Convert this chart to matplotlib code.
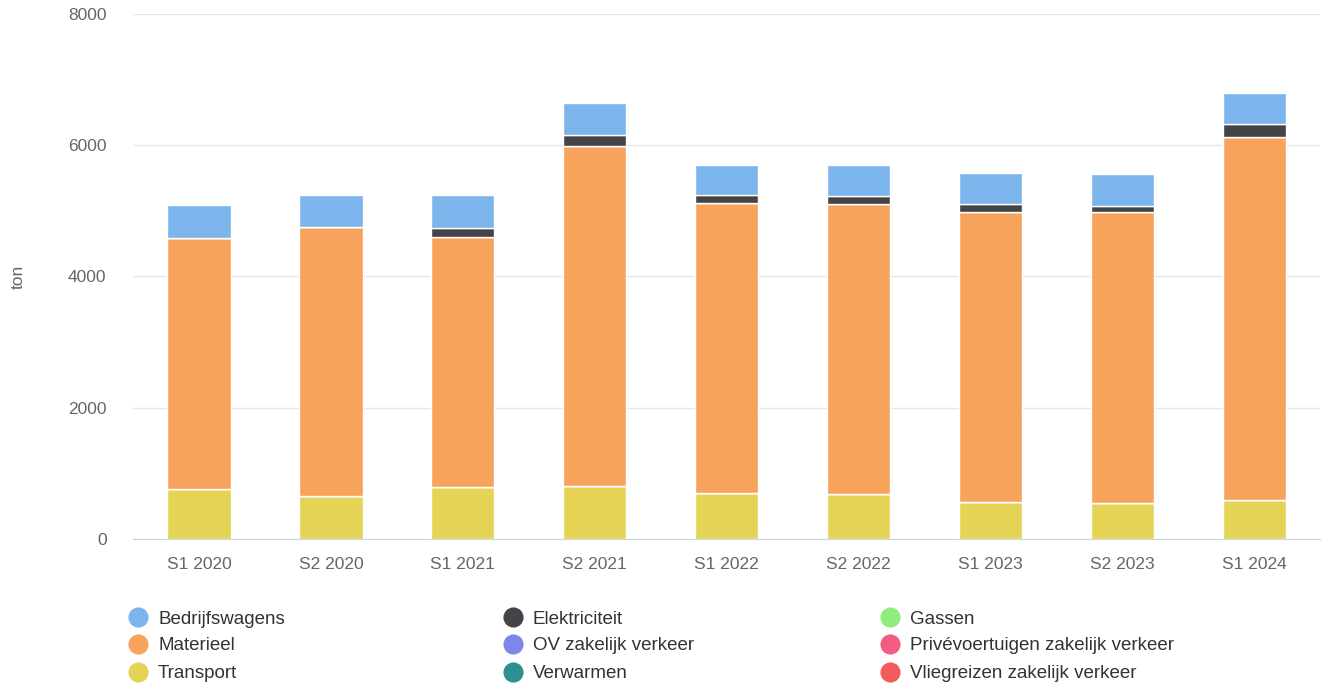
import numpy as np
import matplotlib.pyplot as plt
from matplotlib.lines import Line2D

plt.rcParams['font.family'] = ['Liberation Sans', 'DejaVu Sans']

periods = ['S1 2020', 'S2 2020', 'S1 2021', 'S2 2021', 'S1 2022',
           'S2 2022', 'S1 2023', 'S2 2023', 'S1 2024']

# series in legend order (alphabetical), values in ton
series_names = ['Bedrijfswagens', 'Elektriciteit', 'Gassen',
                'Materieel', 'OV zakelijk verkeer', 'Privévoertuigen zakelijk verkeer',
                'Transport', 'Verwarmen', 'Vliegreizen zakelijk verkeer']
bedrijfswagens = [500, 490, 500, 480, 471, 471, 482, 478, 478]
elektriciteit = [0, 0, 145, 167, 122, 122, 124, 103, 198]
gassen = [0, 0, 0, 0, 0, 0, 0, 0, 0]
materieel = [3830, 4095, 3810, 5180, 4413, 4420, 4407, 4427, 5536]
ov = [0, 0, 0, 0, 0, 0, 0, 0, 0]
prive = [0, 0, 0, 0, 0, 0, 0, 0, 0]
transport = [760, 660, 790, 810, 700, 690, 570, 550, 590]
verwarmen = [0, 0, 0, 0, 0, 0, 0, 0, 0]
vliegreizen = [0, 0, 0, 0, 0, 0, 0, 0, 0]

colors = ['#7cb5ec', '#434348', '#90ed7d', '#f7a35c', '#8085e9',
          '#f15c80', '#e4d354', '#2b908f', '#f45b5b']

data = [bedrijfswagens, elektriciteit, gassen, materieel, ov, prive,
        transport, verwarmen, vliegreizen]

fig = plt.figure(figsize=(13.23, 6.86), dpi=100)
ax = fig.add_axes([0.1005, 0.2143, 0.8975, 0.7653])

x = np.arange(len(periods))
# stack: last series at the bottom, first on top
bottom = np.zeros(len(periods))
for name, vals, col in reversed(list(zip(series_names, data, colors))):
    vals = np.array(vals, dtype=float)
    ax.bar(x, vals, bottom=bottom, width=0.48, color=col,
           edgecolor='white', linewidth=1, zorder=3)
    bottom += vals

ax.set_xlim(-0.5, len(periods) - 0.5)
ax.set_ylim(0, 8000)
ax.set_yticks([0, 2000, 4000, 6000, 8000])
ax.set_xticks(x)
ax.set_xticklabels(periods)
ax.grid(axis='y', color='#e6e6e6', linewidth=1, zorder=0)
for s in ['top', 'right', 'left']:
    ax.spines[s].set_visible(False)
ax.spines['bottom'].set_color('#ccd6eb')
ax.spines['bottom'].set_zorder(4)
ax.tick_params(axis='both', length=0, colors='#666666', labelsize=12.5)
ax.tick_params(axis='x', pad=13)
ax.tick_params(axis='y', pad=19)
ax.set_ylabel('ton', color='#666666', fontsize=12.5)
ax.yaxis.set_label_coords(-0.090, 0.5)

# legend, three columns, row-major
col_x = [138, 513, 890]
row_y = [617, 644, 672]
W, H = 1323, 686
for i, (name, col) in enumerate(zip(series_names, colors)):
    r, c = divmod(i, 3)
    fx = col_x[c] / W
    fy = 1 - row_y[r] / H
    fig.add_artist(Line2D([fx], [fy], marker='o', markersize=13.5,
                          color=col, linestyle='none', transform=fig.transFigure))
    fig.text(fx + 20 / W, fy, name, color='#333333', fontsize=13.5,
             va='center_baseline', ha='left')

fig.savefig('out.png', dpi=100)
